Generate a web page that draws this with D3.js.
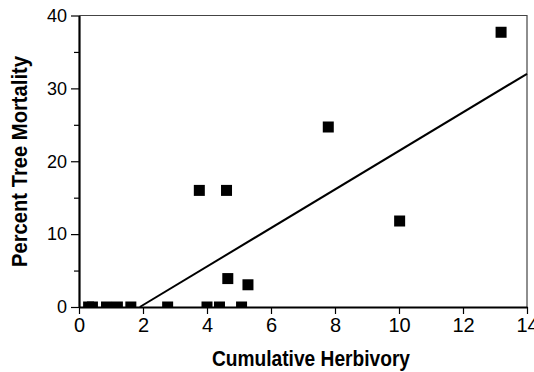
<!DOCTYPE html>
<html>
<head>
<meta charset="utf-8">
<script src="https://cdn.jsdelivr.net/npm/d3@7"></script>
<style>
  body { margin: 0; background: #fff; }
  text { font-family: "Liberation Sans", Arial, sans-serif; fill: #000; }
  .title { font-weight: bold; font-size: 22px; }
</style>
</head>
<body>
<div id="chart"></div>
<script>
// Cumulative herbivory vs. percent tree mortality
const herbivory = [0.3, 0.42, 0.86, 1.2, 1.62, 2.77, 4.0, 4.39, 5.08, 3.76, 4.61, 4.65, 5.28, 7.79, 10.02, 13.19];
const mortality = [0, 0, 0, 0, 0, 0, 0, 0, 0, 16, 16, 3.9, 3.05, 24.7, 11.8, 37.7];
// fitted regression line end points
const fitX = [1.9, 14];
const fitY = [0, 32];
const xTicks = [0, 2, 4, 6, 8, 10, 12, 14];
const yTicks = [0, 10, 20, 30, 40];
const yMinorTicks = [5, 15, 25, 35];

const width = 534, height = 372;
const margin = {top: 15.5, right: 7, bottom: 65, left: 79};
const innerW = width - margin.left - margin.right;
const innerH = height - margin.top - margin.bottom;

const svg = d3.select('#chart').append('svg')
  .attr('width', width)
  .attr('height', height);

const x = d3.scaleLinear().domain([0, 14]).range([0, innerW]);
const y = d3.scaleLinear().domain([0, 40]).range([innerH, 0]);

const g = svg.append('g')
  .attr('transform', `translate(${margin.left},${margin.top})`);

g.append('defs').append('clipPath')
  .attr('id', 'plot-clip')
  .append('rect')
  .attr('width', innerW)
  .attr('height', innerH);

// thin frame on top and right
g.append('path')
  .attr('d', `M0,0H${innerW}V${innerH}`)
  .attr('fill', 'none')
  .attr('stroke', '#444')
  .attr('stroke-width', 1.2);

// regression line
const line = d3.line()
  .x(d => x(d[0]))
  .y(d => y(d[1]));

g.append('path')
  .datum(d3.zip(fitX, fitY))
  .attr('d', line)
  .attr('fill', 'none')
  .attr('stroke', '#000')
  .attr('stroke-width', 2);

// points
const size = 11;
g.append('g')
  .attr('clip-path', 'url(#plot-clip)')
  .selectAll('rect')
  .data(d3.zip(herbivory, mortality))
  .join('rect')
  .attr('x', d => x(d[0]) - size / 2)
  .attr('y', d => y(d[1]) - size / 2)
  .attr('width', size)
  .attr('height', size)
  .attr('fill', '#000');

// axes
const xAxis = g.append('g')
  .attr('transform', `translate(0,${innerH})`)
  .call(d3.axisBottom(x).tickValues(xTicks).tickSize(7).tickPadding(4).tickSizeOuter(0));

const yAxis = g.append('g')
  .call(d3.axisLeft(y).tickValues(yTicks).tickSize(8).tickPadding(4).tickSizeOuter(0));

g.append('g')
  .call(d3.axisLeft(y).tickValues(yMinorTicks).tickSize(5).tickFormat('').tickSizeOuter(0))
  .select('.domain').remove();

[xAxis, yAxis].forEach(a => {
  a.select('.domain').attr('stroke-width', 2.2);
  a.selectAll('text').attr('font-family', '"Liberation Sans", Arial, sans-serif');
});
xAxis.selectAll('text').attr('font-size', 20);
yAxis.selectAll('text').attr('font-size', 18);
g.selectAll('.tick line').attr('stroke-width', 1.2);

// axis titles (condensed to the original's width)
svg.append('text')
  .attr('class', 'title')
  .attr('x', 212)
  .attr('y', 366)
  .attr('textLength', 198)
  .attr('lengthAdjust', 'spacingAndGlyphs')
  .text('Cumulative Herbivory');

svg.append('text')
  .attr('class', 'title')
  .attr('transform', `translate(27,267) rotate(-90)`)
  .attr('textLength', 211)
  .attr('lengthAdjust', 'spacingAndGlyphs')
  .text('Percent Tree Mortality');
</script>
</body>
</html>
